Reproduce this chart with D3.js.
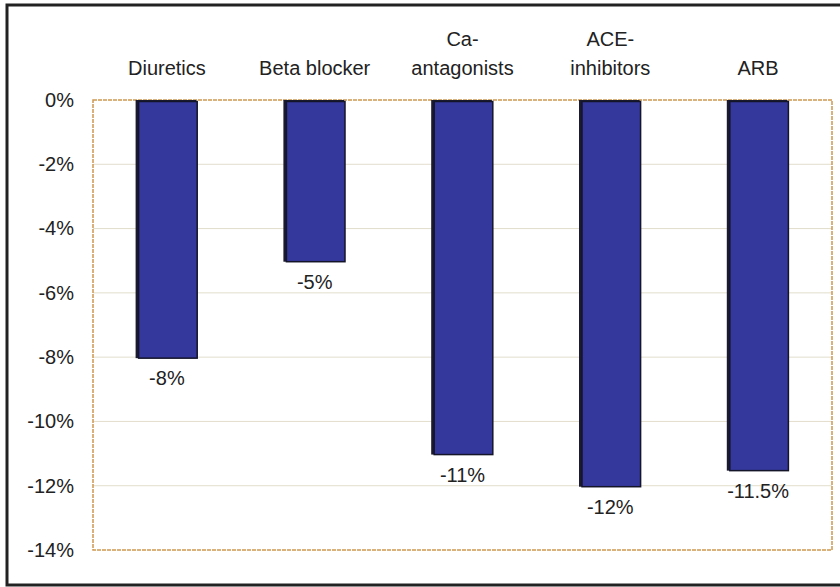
<!DOCTYPE html>
<html><head><meta charset="utf-8">
<script src="https://cdn.jsdelivr.net/npm/d3@7"></script>
<style>body{margin:0;background:#fff}svg{display:block}text{font-family:"Liberation Sans",Arial,sans-serif;fill:#222}</style>
</head><body><svg id="c" width="840" height="587"></svg>
<script>
const categories = [["Diuretics"], ["Beta blocker"], ["Ca-", "antagonists"], ["ACE-", "inhibitors"], ["ARB"]];
const values = [-8, -5, -11, -12, -11.5];
const valueLabels = ["-8%", "-5%", "-11%", "-12%", "-11.5%"];
const yTicks = [0, -2, -4, -6, -8, -10, -12, -14];

const svg = d3.select("#c");
const m = {l: 93, t: 100, r: 832, b: 550};
svg.append("rect").attr("x", 7).attr("y", 5).attr("width", 840).attr("height", 580)
  .attr("fill", "#fff").attr("stroke", "#222").attr("stroke-width", 3);

const x = d3.scaleBand().domain(d3.range(values.length)).range([m.l, m.r]).paddingInner(0.59).paddingOuter(0.295);
const y = d3.scaleLinear().domain([-14, 0]).range([m.b, m.t]);

// gridlines
svg.append("g").selectAll("line").data(yTicks.filter(t => t !== 0 && t !== -14)).join("line")
  .attr("x1", m.l).attr("x2", m.r).attr("y1", d => y(d)).attr("y2", d => y(d))
  .attr("stroke", "#e2ddcc").attr("stroke-width", 1);

// plot border
svg.append("rect").attr("x", m.l).attr("y", m.t).attr("width", m.r - m.l).attr("height", m.b - m.t)
  .attr("fill", "none").attr("stroke", "#d09850").attr("stroke-width", 1.5).attr("stroke-dasharray", "4,1");

// y axis labels
const yAxis = d3.axisLeft(y).tickValues(yTicks).tickFormat(d => d + "%").tickSize(0).tickPadding(19);
const ga = svg.append("g").attr("transform", `translate(${m.l},0)`).call(yAxis);
ga.select(".domain").remove();
ga.selectAll("text").style("font-size", "20px").style("font-family", "'Liberation Sans',Arial,sans-serif").attr("fill", "#222");

// bars: shadow + face
const bars = svg.append("g");
bars.selectAll("rect.sh").data(values).join("rect").attr("class", "sh")
  .attr("x", (d, i) => x(i) - 1).attr("y", y(0))
  .attr("width", x.bandwidth()).attr("height", d => y(d) - y(0) + 1)
  .attr("fill", "#1a1a30");
bars.selectAll("rect.f").data(values).join("rect").attr("class", "f")
  .attr("x", (d, i) => x(i) + 2).attr("y", y(0) + 1.5)
  .attr("width", x.bandwidth() - 2).attr("height", d => y(d) - y(0) - 0.5)
  .attr("fill", "#34379b").attr("stroke", "#15152a").attr("stroke-width", 1.5);

// value labels
svg.append("g").selectAll("text").data(values).join("text")
  .attr("x", (d, i) => x(i) + x.bandwidth() / 2).attr("y", d => y(d) + 28)
  .attr("text-anchor", "middle").style("font-size", "20px")
  .text((d, i) => valueLabels[i]);

// category labels
const cg = svg.append("g");
categories.forEach((lines, i) => {
  lines.forEach((t, j) => {
    cg.append("text").attr("x", x(i) + x.bandwidth() / 2)
      .attr("y", 75 - (lines.length - 1 - j) * 29)
      .attr("text-anchor", "middle").style("font-size", "20px").text(t);
  });
});
</script></body></html>
